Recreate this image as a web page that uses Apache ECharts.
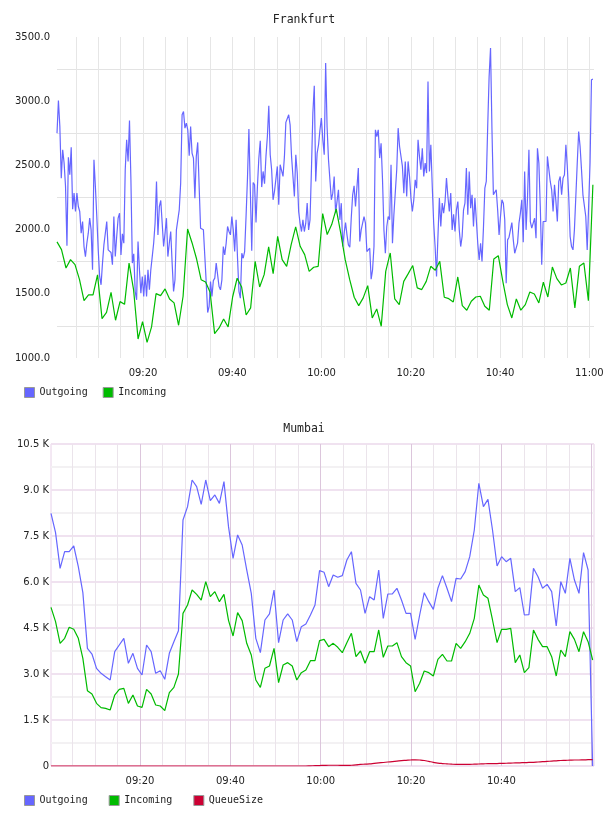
<!DOCTYPE html>
<html>
<head>
<meta charset="utf-8">
<script src="https://cdn.jsdelivr.net/npm/echarts@6/dist/echarts.min.js"></script>
<style>
  html, body { margin: 0; padding: 0; background: #fff; }
  #chart { width: 608px; height: 816px; }
</style>
</head>
<body>
<div id="chart"></div>
<script>
// sample times, minutes after 09:00 (first and last sample of each series)
const fraStart = 0.72
const fraEnd = 120.8
const mumStart = 0.29
const mumEnd = 120.2

// Frankfurt
const fraOutgoing = [
  2751, 3006, 2803, 2401, 2622, 2518, 2336, 1874, 2564, 2427,
  2642, 2159, 2284, 2141, 2284, 2180, 2141, 1972, 2063, 1868,
  1790, 1894, 1972, 2089, 1998, 1687, 2544, 2336, 2102, 1842,
  1635, 1570, 1739, 1881, 1894, 2063, 1842, 1855, 1822, 1726,
  2102, 1790, 1946, 2089, 2128, 1803, 1967, 1894, 2466, 2699,
  2531, 2850, 2388, 1739, 1811, 1518, 1453, 1907, 1687, 1505,
  1635, 1479, 1648, 1479, 1687, 1531, 1687, 1790, 1894, 2050,
  2375, 1959, 2180, 2227, 2050, 1868, 1972, 2089, 1790, 1894,
  1985, 1739, 1518, 1609, 1998, 2076, 2154, 2362, 2894, 2920,
  2790,
  2829, 2777, 2575, 2803, 2596, 2557, 2245, 2570, 2679, 2336,
  2011, 2016, 1998, 1790, 1583, 1354, 1401, 1596, 1479, 1603,
  1622, 1739, 1739, 1557, 1531, 1609, 1868, 1803, 1894, 2024,
  1985, 1959, 2102, 1998, 1829, 2076, 1777, 1518, 1466, 1816,
  1777, 1829, 2102, 2401, 2783, 2310, 1835, 2367, 2349, 2055,
  2336, 2557, 2692, 2331, 2453, 2357, 2570, 2725, 2964, 2583,
  2466, 2232, 2297, 2310, 2492, 2193, 2505, 2497, 2414, 2570,
  2835, 2824, 2894, 2816, 2570, 2414, 2258, 2583, 2440, 2141,
  2050, 1985, 2076, 1985, 2050, 2206, 1998, 2076, 2466, 2907,
  3120, 2375, 2596, 2661,
  2777, 2868, 2699, 2583, 3297, 2803, 2544, 2388, 2232, 2284,
  2414, 2128, 2141, 2310, 2076, 2206, 1868, 1972, 2055, 1959,
  1881, 1863, 2089, 2271, 2341, 2180, 2193, 2479, 1907, 1998,
  2050, 2102, 2050, 1829, 1816, 1855, 1614, 1687, 1868, 2777,
  2725, 2777, 2557, 2673, 2388, 1998, 1816, 2024, 2102, 2076,
  2505, 1894, 2115, 2128, 2466, 2790, 2647, 2634, 2492, 2284,
  2531, 2258, 2531, 2414, 2245, 2141, 2232, 2388, 2323, 2699,
  2570, 2466, 2634, 2414, 2518, 2440, 3154, 2453, 2661, 2336,
  2050, 1868, 1635, 1946, 2245, 2024, 2206, 2128, 2219, 2401,
  2258, 2141, 2284, 1998, 2120, 1985,
  2154, 2219, 1998, 1868, 1946, 2154, 2206, 2479, 2115, 2453,
  2167, 2271, 2024, 2245, 2076, 1894, 1764, 1894, 1752, 2011,
  2323, 2375, 2803, 3193, 3414, 2777, 2271, 2284, 2310, 2154,
  1959, 2102, 2232, 2206, 2076, 1583, 1920, 1941, 1933, 2055,
  1920, 1816, 1803, 1894, 2050, 2128, 2232, 1902, 2453, 1998,
  2245, 2622, 2063, 2011, 2024, 2089, 1933, 2634, 2518, 2180,
  1726, 2063, 2076, 2063, 2570, 2557, 2375, 2310, 2141, 2349,
  2219, 2063, 2375, 2414, 2271, 2401, 2427, 2661, 2492, 2258,
  1946, 1868, 1842, 1998, 2258, 2518, 2764, 2647, 2466, 2271,
  2258, 2102, 1842, 1855, 2518, 3167, 3172
]
const fraIncoming = [
  1904, 1844, 1701, 1766, 1727, 1610, 1447, 1491, 1491, 1647,
  1307, 1356, 1512, 1294, 1439, 1418, 1740, 1533, 1148, 1283,
  1122, 1242, 1501, 1486, 1538, 1460, 1429, 1255, 1481, 2005,
  1896, 1771, 1610, 1592, 1512, 1190, 1234, 1304, 1242, 1475,
  1621, 1553, 1335, 1390, 1753, 1553, 1649, 1865, 1657, 1948,
  1766, 1714, 1883, 2021, 1870, 1805, 1675, 1707, 1714, 2125,
  1961, 2039, 2161, 1974, 1766, 1610, 1473, 1408, 1468, 1564,
  1312, 1382, 1247, 1675, 1818, 1460, 1416, 1597, 1657, 1720,
  1546, 1533, 1597, 1714, 1683, 1753, 1473, 1462, 1436, 1631,
  1408, 1372, 1442, 1475, 1481, 1403, 1372, 1771, 1797, 1597,
  1416, 1312, 1460, 1372, 1416, 1514, 1499, 1429, 1590, 1475,
  1709, 1618, 1569, 1584, 1701, 1390, 1714, 1740, 1447, 2350
]

// Mumbai
const mumOutgoing = [
  8240, 7609, 6446, 6989, 6989, 7174, 6500, 5652, 3837, 3652,
  3185, 3022, 2913, 2804, 3728, 3946, 4163, 3348, 3674, 3185,
  2967, 3946, 3728, 3022, 3109, 2826, 3674, 4054, 4413, 8022,
  8457, 9326, 9109, 8533, 9326, 8652, 8837, 8565, 9272, 7805,
  6772, 7533, 7207, 6392, 5631, 4163, 3696, 4761, 4957, 5739,
  4022, 4761, 4957, 4761, 4054, 4544, 4631, 4924, 5250, 6370,
  6316, 5848, 6229, 6153, 6207, 6718, 6989, 5957, 5739, 4978,
  5522, 5413, 6392, 4815, 5609, 5609, 5794, 5413, 4978, 4978,
  4130, 4924, 5652, 5359, 5109, 5794, 6207, 5794, 5359, 6120,
  6098, 6337, 6827, 7696, 9218, 8457, 8696, 7696, 6522, 6827,
  6663, 6772, 5685, 5815, 4924, 4935, 6446, 6174, 5794, 5924,
  5685, 4565, 6011, 5631, 6772, 6065, 5631, 6957, 6392, 0
]
const mumIncoming = [
  5174, 4707, 4000, 4163, 4522, 4457, 4163, 3511, 2457, 2348,
  2043, 1902, 1880, 1826, 2315, 2500, 2533, 2043, 2315, 1957,
  1913, 2500, 2348, 1989, 1957, 1804, 2391, 2565, 3000, 4978,
  5250, 5739, 5598, 5413, 6011, 5522, 5685, 5359, 5598, 4750,
  4239, 5000, 4739, 4000, 3620, 2804, 2565, 3185, 3261, 3837,
  2717, 3294, 3370, 3261, 2804, 3044, 3131, 3435, 3435, 4087,
  4130, 3891, 4000, 3870, 3696, 4022, 4326, 3565, 3750, 3348,
  3728, 3728, 4435, 3543, 3913, 3913, 4022, 3565, 3370, 3261,
  2424, 2696, 3098, 3044, 2935, 3478, 3641, 3424, 3424, 4000,
  3837, 4054, 4326, 4815, 5902, 5576, 5468, 4761, 4022, 4457,
  4457, 4489, 3370, 3620, 3044, 3207, 4435, 4130, 3891, 3891,
  3565, 2935, 3783, 3565, 4381, 4130, 3728, 4381, 4054, 3457
]
const mumQueue = [
  0, 0, 0, 0, 0, 0, 0, 0, 0, 0,
  0, 0, 0, 0, 0, 0, 0, 0, 0, 0,
  0, 0, 0, 0, 0, 0, 0, 0, 0, 0,
  0, 0, 0, 0, 0, 0, 0, 0, 0, 0,
  0, 0, 0, 0, 0, 0, 0, 0, 0, 0,
  0, 0, 0, 0, 0, 0, 0, 5, 10, 15,
  20, 25, 25, 25, 20, 20, 25, 35, 50, 60,
  70, 85, 100, 115, 130, 145, 160, 175, 185, 195,
  200, 195, 180, 150, 120, 95, 80, 70, 60, 55,
  55, 55, 55, 60, 65, 70, 75, 75, 80, 85,
  90, 95, 100, 105, 110, 115, 120, 130, 140, 150,
  160, 170, 180, 185, 190, 195, 195, 200, 205, 210
]

const legendNames1 = ['Outgoing', 'Incoming']
const legendNames2 = ['Outgoing', 'Incoming', 'QueueSize']

// evenly spaced samples between first and last sample time
function spread (vals, t0, t1) {
  const step = (t1 - t0) / (vals.length - 1)
  return vals.map((v, i) => [t0 + i * step, v])
}

function hhmm (m) {
  const h = 9 + Math.floor(m / 60)
  const mm = Math.round(m % 60)
  return (h < 10 ? '0' : '') + h + ':' + (mm < 10 ? '0' : '') + mm
}

const labelFont = { fontFamily: 'DejaVu Sans', fontSize: 10, color: '#222' }
const monoFont = { fontFamily: 'DejaVu Sans Mono', fontSize: 10, color: '#222' }
const titleFont = { fontFamily: 'DejaVu Sans Mono', fontSize: 11.5, fontWeight: 'normal', color: '#222' }

function timeAxis (grid, min, max, lineColor, every, lastLabel) {
  return {
    type: 'value',
    gridIndex: grid,
    min: min,
    max: max,
    minInterval: every,
    maxInterval: every,
    axisLine: { show: false },
    axisTick: { show: false },
    axisLabel: Object.assign({
      show: lastLabel > 0,
      margin: 10,
      formatter: function (v) {
        return Math.abs(v % 20) < 1e-6 && v > 0 && v <= lastLabel ? hhmm(v) : ''
      }
    }, labelFont),
    splitLine: {
      show: true,
      showMinLine: false,
      showMaxLine: false,
      lineStyle: { color: lineColor, width: 1 }
    }
  }
}

const chart = echarts.init(document.getElementById('chart'))

const option = {
  animation: false,
  title: [
    { text: 'Frankfurt', left: 'center', top: 14, padding: 0, textStyle: titleFont },
    { text: 'Mumbai', left: 'center', top: 423, padding: 0, textStyle: titleFont }
  ],
  legend: [
    {
      data: legendNames1, left: 24, top: 387, padding: 0, icon: 'rect',
      itemWidth: 10, itemHeight: 10, itemGap: 15,
      itemStyle: { borderColor: '#999', borderWidth: 1 },
      textStyle: monoFont
    },
    {
      data: legendNames2, left: 24, top: 795, padding: 0, icon: 'rect',
      itemWidth: 10, itemHeight: 10, itemGap: 21,
      itemStyle: { borderColor: '#999', borderWidth: 1 },
      textStyle: monoFont
    }
  ],
  grid: [
    { left: 57, right: 14, top: 37, height: 321 },
    { left: 51, right: 14, top: 444, height: 322, show: true, borderColor: '#e8d2e8', borderWidth: 1, backgroundColor: 'transparent' }
  ],
  xAxis: [
    timeAxis(0, fraStart, 121.05, '#e6e6e6', 5, 120),
    timeAxis(1, mumStart, 120.5, '#ebe4eb', 5, 100),
    timeAxis(1, mumStart, 120.5, '#dcc6dc', 20, 0)
  ],
  yAxis: [
    {
      type: 'value', gridIndex: 0, min: 1000, max: 3500, interval: 250,
      axisLine: { show: false }, axisTick: { show: false },
      axisLabel: Object.assign({
        margin: 7,
        formatter: function (v) { return v % 500 === 0 ? v.toFixed(1) : '' }
      }, labelFont),
      splitLine: { lineStyle: { color: ['rgba(0,0,0,0)', '#e3e3e3'] } }
    },
    {
      type: 'value', gridIndex: 1, min: 0, max: 10500, interval: 750,
      axisLine: { show: false }, axisTick: { show: false },
      axisLabel: Object.assign({
        margin: 2,
        formatter: function (v) {
          if (v % 1500 !== 0) return ''
          return v === 0 ? '0' : (v / 1000).toFixed(1) + ' K'
        }
      }, labelFont),
      splitLine: { lineStyle: { color: ['#f0e2f0', '#f3f1f3'], width: 2 } }
    }
  ],
  series: [
    {
      name: 'Outgoing', type: 'line', xAxisIndex: 0, yAxisIndex: 0,
      data: spread(fraOutgoing, fraStart, fraEnd),
      showSymbol: false, symbol: 'none', color: '#6666ff',
      lineStyle: { width: 1.2 }
    },
    {
      name: 'Incoming', type: 'line', xAxisIndex: 0, yAxisIndex: 0,
      data: spread(fraIncoming, fraStart, fraEnd),
      showSymbol: false, symbol: 'none', color: '#00bb00',
      lineStyle: { width: 1.2 }
    },
    {
      name: 'Outgoing', type: 'line', xAxisIndex: 1, yAxisIndex: 1,
      data: spread(mumOutgoing, mumStart, mumEnd),
      showSymbol: false, symbol: 'none', color: '#6666ff',
      lineStyle: { width: 1.2 }
    },
    {
      name: 'Incoming', type: 'line', xAxisIndex: 1, yAxisIndex: 1,
      data: spread(mumIncoming, mumStart, mumEnd),
      showSymbol: false, symbol: 'none', color: '#00bb00',
      lineStyle: { width: 1.2 }
    },
    {
      name: 'QueueSize', type: 'line', xAxisIndex: 1, yAxisIndex: 1,
      data: spread(mumQueue, mumStart, mumEnd),
      showSymbol: false, symbol: 'none', smooth: true, color: '#cc0033',
      lineStyle: { width: 1.2 }
    }
  ]
}

chart.setOption(option)
</script>
</body>
</html>
